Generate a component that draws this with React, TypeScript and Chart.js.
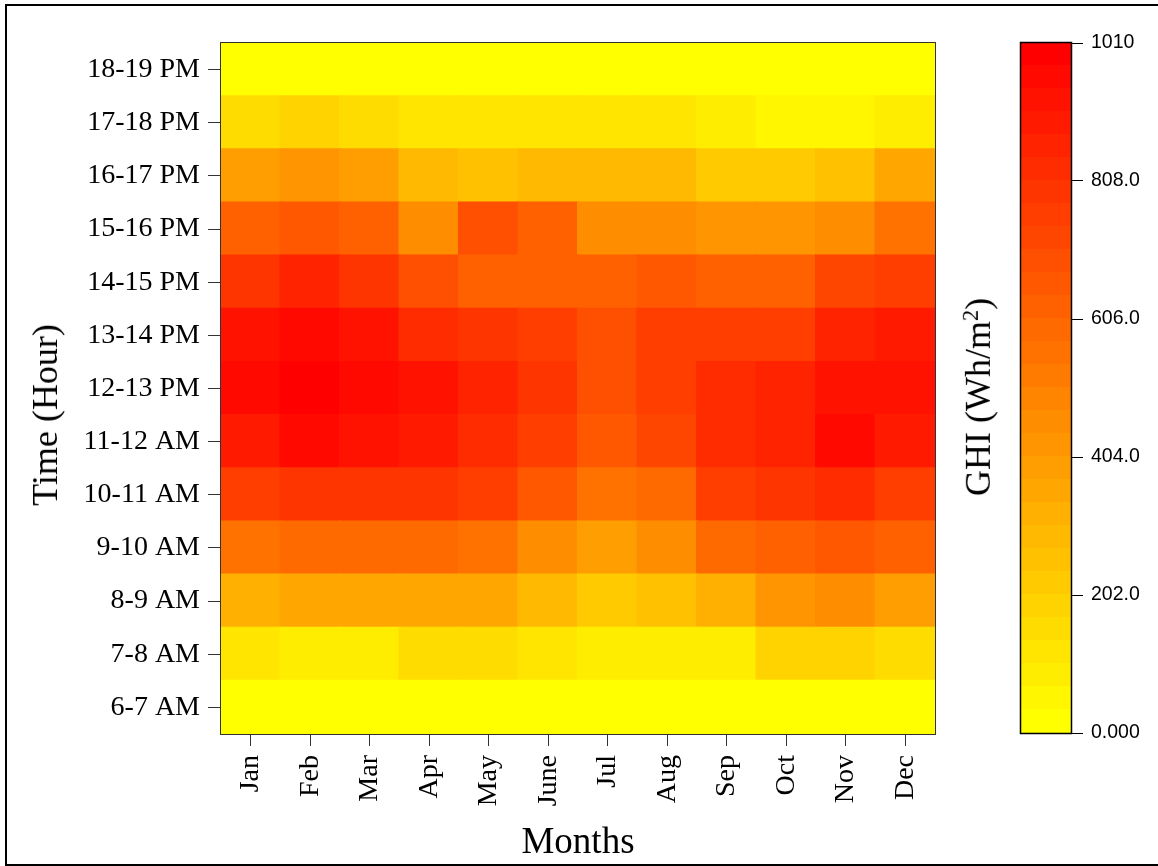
import React, { useEffect, useRef } from "react";
import { Chart, registerables } from "chart.js";

Chart.register(...registerables);

// ---- data ----
const months = ["Jan", "Feb", "Mar", "Apr", "May", "June", "Jul", "Aug", "Sep", "Oct", "Nov", "Dec"];
const hourLabels = [
  "6-7 AM", "7-8 AM", "8-9 AM", "9-10 AM", "10-11 AM", "11-12 AM",
  "12-13 PM", "13-14 PM", "14-15 PM", "15-16 PM", "16-17 PM", "17-18 PM", "18-19 PM",
];

// GHI (Wh/m2) per hour slot, Jan..Dec
const h06_07 = [6, 5, 6, 7, 8, 7, 6, 6, 7, 7, 6, 5];
const h07_08 = [115, 83, 99, 143, 147, 107, 75, 75, 91, 170, 186, 147];
const h08_09 = [329, 360, 360, 360, 360, 297, 202, 265, 329, 408, 440, 392];
const h09_10 = [566, 598, 598, 598, 566, 455, 376, 455, 582, 630, 646, 614];
const h10_11 = [757, 788, 788, 804, 757, 646, 566, 598, 741, 804, 836, 772];
const h11_12 = [899, 962, 931, 883, 836, 757, 646, 709, 836, 851, 946, 899];
const h12_13 = [962, 1005, 962, 915, 851, 788, 677, 741, 836, 851, 931, 931];
const h13_14 = [931, 962, 931, 836, 788, 757, 693, 741, 772, 772, 851, 891];
const h14_15 = [788, 851, 804, 693, 638, 638, 614, 669, 622, 622, 709, 741];
const h15_16 = [606, 646, 606, 463, 693, 606, 455, 471, 424, 424, 471, 550];
const h16_17 = [388, 432, 376, 297, 257, 297, 297, 297, 218, 218, 250, 337];
const h17_18 = [155, 186, 160, 115, 115, 115, 115, 115, 83, 40, 40, 75];
const h18_19 = [10, 12, 11, 10, 9, 8, 9, 10, 9, 8, 8, 9];

const hourRows = [h06_07, h07_08, h08_09, h09_10, h10_11, h11_12, h12_13, h13_14, h14_15, h15_16, h16_17, h17_18, h18_19];

const colorbarTicks = [0, 202, 404, 606, 808, 1010];
const colorbarTickLabels = ["0.000", "202.0", "404.0", "606.0", "808.0", "1010"];
const GHI_MAX = 1010;
const N_LEVELS = 30;

// ---- colour scale (yellow -> red, 30 levels) ----
function levelColor(k: number): string {
  const g = Math.round(255 * (1 - k / (N_LEVELS - 1)));
  return `rgb(255,${g},0)`;
}
function valueColor(v: number): string {
  const k = Math.max(0, Math.min(N_LEVELS - 1, Math.floor((v / GHI_MAX) * N_LEVELS)));
  return levelColor(k);
}

const framePlugin = {
  id: "frame",
  afterDatasetsDraw(chart: any, _args: any, opts: any) {
    const { ctx, chartArea: a } = chart;
    ctx.save();
    ctx.strokeStyle = opts.color || "#000";
    ctx.lineWidth = opts.width || 1;
    ctx.strokeRect(a.left - 0.5, a.top - 0.5, a.right - a.left + 1, a.bottom - a.top + 1);
    ctx.restore();
  },
};

const serif = "'Liberation Serif', 'Times New Roman', serif";
const sans = "'Liberation Sans', Arial, sans-serif";

export default function App() {
  const mainRef = useRef<HTMLCanvasElement | null>(null);
  const barRef = useRef<HTMLCanvasElement | null>(null);

  useEffect(() => {
    if (!mainRef.current || !barRef.current) return;

    const main = new Chart(mainRef.current, {
      type: "bar",
      data: {
        labels: months,
        datasets: hourRows.map((row, i) => ({
          label: hourLabels[i],
          data: row.map(() => 1),
          backgroundColor: row.map(valueColor),
          borderWidth: 0,
          barPercentage: 1,
          categoryPercentage: 1,
          inflateAmount: 1,
          clip: 0,
        })),
      },
      options: {
        responsive: false,
        animation: false,
        layout: { padding: { top: 43, right: 223, left: 0, bottom: 0 } },
        plugins: {
          legend: { display: false },
          tooltip: { enabled: false },
          frame: { color: "#333", width: 1 },
        } as any,
        scales: {
          x: {
            stacked: true,
            offset: true,
            border: { display: false },
            grid: { offset: false, drawOnChartArea: false, drawTicks: true, tickLength: 12, tickColor: "#333", lineWidth: 1 },
            ticks: {
              font: { family: serif, size: 28 },
              color: "#000",
              minRotation: 90,
              maxRotation: 90,
              padding: 9,
              autoSkip: false,
            },
            title: {
              display: true,
              text: "Months",
              font: { family: serif, size: 37 },
              color: "#000",
              padding: { top: 0, bottom: 1 },
            },
            afterFit: (s: any) => { s.height = 132; },
          },
          y: {
            type: "linear",
            stacked: true,
            min: 0,
            max: hourLabels.length,
            border: { display: false },
            grid: { drawOnChartArea: false, drawTicks: true, tickLength: 13, tickColor: "#333", lineWidth: 1 },
            afterBuildTicks: (s: any) => { s.ticks = hourLabels.map((_, i) => ({ value: i + 0.5 })); },
            ticks: {
              font: { family: serif, size: 28 },
              color: "#000",
              padding: 8,
              autoSkip: false,
              callback: (_v: any, i: number) => hourLabels[i],
            },
            afterFit: (s: any) => { s.width = 221; },
          },
        },
      } as any,
      plugins: [framePlugin],
    });

    const bar = new Chart(barRef.current, {
      type: "bar",
      data: {
        labels: [""],
        datasets: Array.from({ length: N_LEVELS }, (_, k) => ({
          data: [GHI_MAX / N_LEVELS],
          backgroundColor: levelColor(k),
          borderWidth: 0,
          barPercentage: 1,
          categoryPercentage: 1,
          inflateAmount: 1,
          clip: 0,
        })),
      },
      options: {
        responsive: false,
        animation: false,
        layout: { padding: { left: 31, top: 43, bottom: 133, right: 0 } },
        plugins: {
          legend: { display: false },
          tooltip: { enabled: false },
          frame: { color: "#000", width: 1.5 },
        } as any,
        scales: {
          x: { display: false, stacked: true },
          y: {
            stacked: true,
            position: "right",
            min: 0,
            max: GHI_MAX,
            border: { display: false },
            grid: { drawOnChartArea: false, drawTicks: true, tickLength: 12, tickColor: "#000", lineWidth: 1 },
            afterBuildTicks: (s: any) => { s.ticks = colorbarTicks.map((v) => ({ value: v })); },
            ticks: {
              font: { family: sans, size: 19.5 },
              color: "#000",
              padding: 8,
              autoSkip: false,
              callback: (_v: any, i: number) => colorbarTickLabels[i],
            },
            afterFit: (s: any) => { s.width = 87; },
          },
        },
      } as any,
      plugins: [framePlugin],
    });

    return () => {
      main.destroy();
      bar.destroy();
    };
  }, []);

  const rotated: React.CSSProperties = {
    position: "absolute",
    transform: "translate(-50%, -50%) rotate(-90deg)",
    fontFamily: serif,
    fontSize: 36,
    lineHeight: 1,
    whiteSpace: "nowrap",
    color: "#000",
  };

  return (
    <div style={{ position: "absolute", left: 0, top: 0, width: 1158, height: 866, background: "#fff", overflow: "hidden" }}>
      <div
        style={{
          position: "absolute",
          left: 5,
          top: 4,
          width: 1153,
          height: 862,
          boxSizing: "border-box",
          borderTop: "2px solid #000",
          borderLeft: "2px solid #000",
          borderBottom: "2px solid #000",
        }}
      />
      <canvas ref={mainRef} width={1158} height={866} style={{ position: "absolute", left: 0, top: 0, width: 1158, height: 866 }} />
      <canvas ref={barRef} width={168} height={866} style={{ position: "absolute", left: 990, top: 0, width: 168, height: 866 }} />
      <div style={{ ...rotated, left: 45, top: 415 }}>Time (Hour)</div>
      <div style={{ ...rotated, left: 978, top: 397 }}>
        GHI (Wh/m<span style={{ fontSize: "0.62em", verticalAlign: "0.55em" }}>2</span>)
      </div>
    </div>
  );
}
